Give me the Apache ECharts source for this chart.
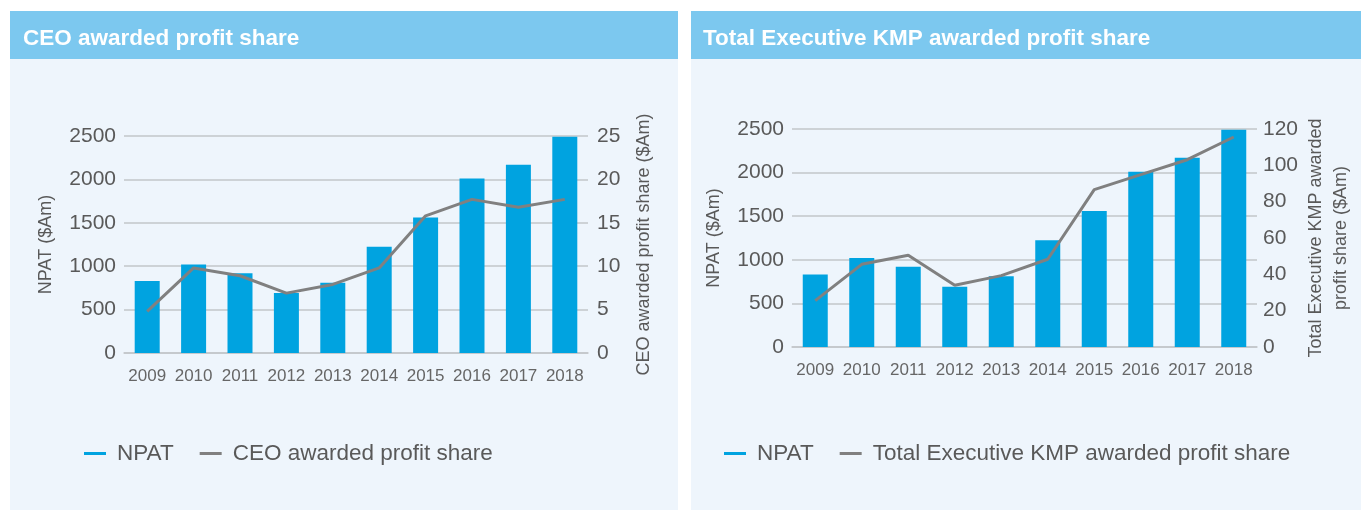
<!DOCTYPE html>
<html>
<head>
<meta charset="utf-8">
<script src="https://cdn.jsdelivr.net/npm/echarts@6/dist/echarts.min.js"></script>
<style>
  html, body { margin: 0; padding: 0; background: #fff; }
  #container { width: 1361px; height: 510px; }
</style>
</head>
<body>
<div id="container"></div>
<script>
var years = ['2009', '2010', '2011', '2012', '2013', '2014', '2015', '2016', '2017', '2018'];
var npat = [830, 1020, 920, 690, 810, 1225, 1560, 2010, 2170, 2490];          // NPAT $Am
var ceoShare = [4.8, 9.8, 8.9, 6.9, 7.9, 9.8, 15.8, 17.7, 16.8, 17.7];       // CEO awarded profit share
var kmpShare = [25.5, 45.5, 50.5, 34, 39.3, 48.3, 86.6, 94.9, 103.1, 115.6]; // Total Exec KMP
var npatTicks = [0, 2500, 500];
var ceoTicks = [0, 25, 5];
var kmpTicks = [0, 120, 20];

var font = '"Liberation Sans", Arial, Helvetica, sans-serif';
var gridColor = '#c2c6ca';
var textColor = '#595959';
var barColor = '#00a3e0';
var lineColor = '#808080';

var dom = document.getElementById('container');
var myChart = echarts.init(dom);

// plain numbers, no thousands separator
function plain(v) { return String(v); }

function yAxisLeft(gridIndex) {
    return {
        type: 'value', gridIndex: gridIndex, position: 'left',
        min: npatTicks[0], max: npatTicks[1], interval: npatTicks[2],
        name: 'NPAT ($Am)', nameLocation: 'middle', nameGap: 69, nameRotate: 90,
        nameTextStyle: {fontFamily: font, fontSize: 18, color: textColor},
        axisLine: {show: false}, axisTick: {show: false},
        axisLabel: {fontFamily: font, fontSize: 21, color: textColor, margin: 8, formatter: plain},
        splitLine: {lineStyle: {color: gridColor, width: 1.5}}
    };
}

function yAxisRight(gridIndex, ticks, name, gap, margin) {
    return {
        type: 'value', gridIndex: gridIndex, position: 'right',
        min: ticks[0], max: ticks[1], interval: ticks[2],
        name: name, nameLocation: 'middle', nameGap: gap, nameRotate: 90,
        nameTextStyle: {fontFamily: font, fontSize: 18, color: textColor, lineHeight: 25},
        axisLine: {show: false}, axisTick: {show: false},
        axisLabel: {fontFamily: font, fontSize: 21, color: textColor, margin: margin, formatter: plain},
        splitLine: {show: false}
    };
}

function xAxis(gridIndex) {
    return {
        type: 'category', gridIndex: gridIndex, data: years,
        axisLine: {lineStyle: {color: gridColor, width: 1.5}},
        axisTick: {show: false},
        axisLabel: {fontFamily: font, fontSize: 17, color: '#666', margin: 15,
                    interval: 0, hideOverlap: false}
    };
}

function legend(left, names) {
    return {
        left: left, top: 437, data: names,
        icon: 'rect', itemWidth: 22, itemHeight: 3, itemGap: 26,
        textStyle: {fontFamily: font, fontSize: 22.5, color: textColor, padding: [0, 0, 0, 6]}
    };
}

option = {
    backgroundColor: '#fff',
    animation: false,
    graphic: [
        {type: 'rect', z: -10, shape: {x: 10, y: 11, width: 668, height: 48}, style: {fill: '#7cc8ef'}},
        {type: 'rect', z: -10, shape: {x: 10, y: 59, width: 668, height: 451}, style: {fill: '#eef5fc'}},
        {type: 'rect', z: -10, shape: {x: 691, y: 11, width: 670, height: 48}, style: {fill: '#7cc8ef'}},
        {type: 'rect', z: -10, shape: {x: 691, y: 59, width: 670, height: 451}, style: {fill: '#eef5fc'}}
    ],
    title: [
        {text: 'CEO awarded profit share', left: 18, top: 22,
         textStyle: {fontFamily: font, fontSize: 22.5, fontWeight: 'bold', color: '#fff'}},
        {text: 'Total Executive KMP awarded profit share', left: 698, top: 22,
         textStyle: {fontFamily: font, fontSize: 22.5, fontWeight: 'bold', color: '#fff'}}
    ],
    legend: [
        legend(79, ['NPAT', 'CEO awarded profit share']),
        legend(719, ['NPAT', 'Total Executive KMP awarded profit share'])
    ],
    grid: [
        {left: 124, width: 464, top: 136, height: 217},
        {left: 792, width: 465, top: 129, height: 218}
    ],
    xAxis: [xAxis(0), xAxis(1)],
    yAxis: [
        yAxisLeft(0),
        yAxisRight(0, ceoTicks, 'CEO awarded profit share ($Am)', 44, 9),
        yAxisLeft(1),
        yAxisRight(1, kmpTicks, 'Total Executive KMP awarded\nprofit share ($Am)', 47, 6)
    ],
    series: [
        {name: 'NPAT', type: 'bar', xAxisIndex: 0, yAxisIndex: 0, barWidth: 25,
         itemStyle: {color: barColor}, data: npat},
        {name: 'CEO awarded profit share', type: 'line', xAxisIndex: 0, yAxisIndex: 1,
         symbol: 'none', lineStyle: {color: lineColor, width: 3}, itemStyle: {color: lineColor}, data: ceoShare},
        {name: 'NPAT', type: 'bar', xAxisIndex: 1, yAxisIndex: 2, barWidth: 25,
         itemStyle: {color: barColor}, data: npat},
        {name: 'Total Executive KMP awarded profit share', type: 'line', xAxisIndex: 1, yAxisIndex: 3,
         symbol: 'none', lineStyle: {color: lineColor, width: 3}, itemStyle: {color: lineColor}, data: kmpShare}
    ]
};

if (option && typeof option === 'object') {
    myChart.setOption(option, true);
}
</script>
</body>
</html>
